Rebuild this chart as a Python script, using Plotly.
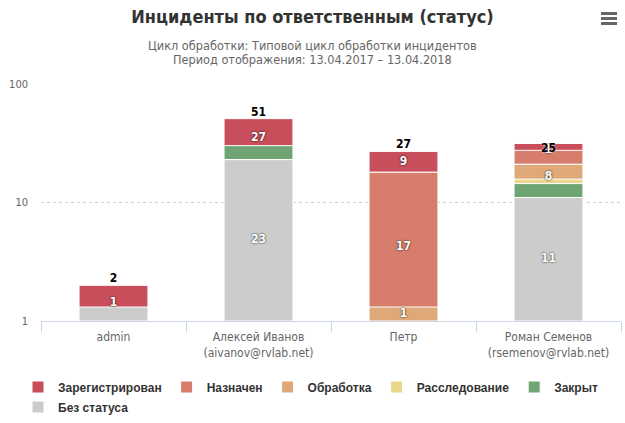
import math
import plotly.graph_objects as go

# ---------------- data ----------------
categories = ["admin", "Алексей Иванов<br>(aivanov@rvlab.net)", "Петр",
              "Роман Семенов<br>(rsemenov@rvlab.net)"]
series_names = ["Зарегистрирован", "Назначен", "Обработка", "Расследование", "Закрыт", "Без статуса"]
registered = [1, 27, 9, 1]
assigned = [0, 0, 17, 3]
processing = [0, 0, 1, 8]
investigation = [0, 0, 0, 1]
closed = [0, 1, 0, 1]
no_status = [1, 23, 0, 11]
colors = ["#C74E5A", "#D67D6B", "#DFA878", "#ECD68B", "#6FA573", "#CCCCCC"]
y_ticks = [1, 10, 100]

series_values = [registered, assigned, processing, investigation, closed, no_status]

FONT = "DejaVu Sans Condensed, DejaVu Sans"

# ---------------- geometry helpers (Highcharts-like log stacking) ----------------
W, H = 625, 423
M_L, M_R, M_T, M_B = 41, 4, 84, 102
plot_h = H - M_T - M_B
plot_w = W - M_L - M_R
LOG_MIN, LOG_MAX = 0.0, 2.0
px_per_dec = plot_h / (LOG_MAX - LOG_MIN)
MIN_LEN = 14 / px_per_dec          # minimum point length (log units)
LABEL_GAP = 17 / px_per_dec        # overlap threshold for data labels


def px_to_paper_y(py):
    return (H - M_B - py) / plot_h


def px_to_paper_x(px):
    return (px - M_L) / plot_w


fig = go.Figure()

n_cat = len(categories)
shown_labels = [[] for _ in range(n_cat)]
lab_x, lab_y, lab_t = [], [], []

for i, (name, vals, col) in enumerate(zip(series_names, series_values, colors)):
    bases, lengths = [], []
    for c in range(n_cat):
        v = vals[c]
        below = sum(series_values[j][c] for j in range(i + 1, len(series_values)))
        if v <= 0:
            bases.append(None)
            lengths.append(None)
            continue
        b_log = math.log10(below) if below >= 1 else LOG_MIN
        t_log = max(math.log10(below + v), b_log + MIN_LEN)
        bases.append(10 ** b_log)
        lengths.append(10 ** t_log - 10 ** b_log)
        centre = (b_log + t_log) / 2
        if all(abs(centre - s) >= LABEL_GAP for s in shown_labels[c]):
            shown_labels[c].append(centre)
            lab_x.append(categories[c])
            lab_y.append(10 ** centre)
            lab_t.append(str(v))
    fig.add_trace(go.Bar(
        x=categories, y=lengths, base=bases, name=name,
        marker=dict(color=col, line=dict(color="#ffffff", width=1)),
        width=0.475, hoverinfo="skip",
        legend="legend2" if i == len(series_names) - 1 else "legend",
    ))

# data labels
fig.add_trace(go.Scatter(
    x=lab_x, y=lab_y, text=lab_t, mode="text", showlegend=False, hoverinfo="skip",
    textfont=dict(family=FONT, size=12, color="#ffffff",
                  weight="bold", shadow="0px 0px 2px #000000"),
))

# stack totals
totals = [sum(s[c] for s in series_values) for c in range(n_cat)]
fig.add_trace(go.Scatter(
    x=categories, y=totals, text=[str(t) for t in totals], mode="text",
    textposition="top center", showlegend=False, hoverinfo="skip",
    textfont=dict(family=FONT, size=12, color="#000000",
                  weight="bold", shadow="0px 0px 2px #ffffff"),
))

# export (hamburger) icon
shapes = []
for py in (13.5, 18.5, 23.5):
    shapes.append(dict(type="line", xref="paper", yref="paper",
                       x0=px_to_paper_x(601), x1=px_to_paper_x(617),
                       y0=px_to_paper_y(py), y1=px_to_paper_y(py),
                       line=dict(color="#666666", width=3)))

legend_common = dict(
    orientation="h", xanchor="left", yanchor="middle",
    font=dict(family="Liberation Sans, Arial", size=12, color="#333333", weight="bold"),
    itemwidth=30, traceorder="normal", tracegroupgap=0,
    bgcolor="rgba(0,0,0,0)",
)

fig.update_layout(
    width=W, height=H,
    margin=dict(l=M_L, r=M_R, t=M_T, b=M_B, autoexpand=False),
    paper_bgcolor="#ffffff", plot_bgcolor="#ffffff",
    barmode="overlay",
    font=dict(family=FONT, size=11, color="#666666"),
    title=dict(text="Инциденты по ответственным (статус)", x=0.5, xanchor="center",
               xref="container", yref="container",
               y=1 - 17 / H, yanchor="middle",
               font=dict(family=FONT, size=18, color="#333333", weight="bold")),
    annotations=[
        dict(text="Цикл обработки: Типовой цикл обработки инцидентов",
             xref="paper", yref="paper", x=px_to_paper_x(W / 2), y=px_to_paper_y(45),
             xanchor="center", yanchor="middle", showarrow=False,
             font=dict(family=FONT, size=12.6, color="#666666")),
        dict(text="Период отображения: 13.04.2017 – 13.04.2018",
             xref="paper", yref="paper", x=px_to_paper_x(W / 2), y=px_to_paper_y(60),
             xanchor="center", yanchor="middle", showarrow=False,
             font=dict(family=FONT, size=12.6, color="#666666")),
    ],
    shapes=shapes,
    xaxis=dict(
        type="category", range=[-0.5, n_cat - 0.5],
        showline=True, linecolor="#ccd6eb", linewidth=1,
        ticks="outside", tickson="boundaries", ticklen=10, tickcolor="#ccd6eb",
        ticklabelstandoff=5,
        showgrid=False, tickfont=dict(family=FONT, size=12, color="#666666"),
    ),
    yaxis=dict(
        type="log", range=[LOG_MIN, LOG_MAX], tickvals=y_ticks,
        ticktext=[str(t) for t in y_ticks],
        showgrid=True, gridcolor="#d0d0d0", griddash="dot", gridwidth=1,
        zeroline=False, showline=False, ticks="", ticklabelstandoff=12,
        tickfont=dict(family=FONT, size=11, color="#666666"),
    ),
    legend=dict(x=px_to_paper_x(18), y=px_to_paper_y(387), **legend_common),
    legend2=dict(x=px_to_paper_x(18), y=px_to_paper_y(407), **legend_common),
    showlegend=True,
)

fig.write_html(
    "out.html",
    config={"displayModeBar": False},
    post_script="document.body.style.margin='0';document.body.style.padding='0';",
)
